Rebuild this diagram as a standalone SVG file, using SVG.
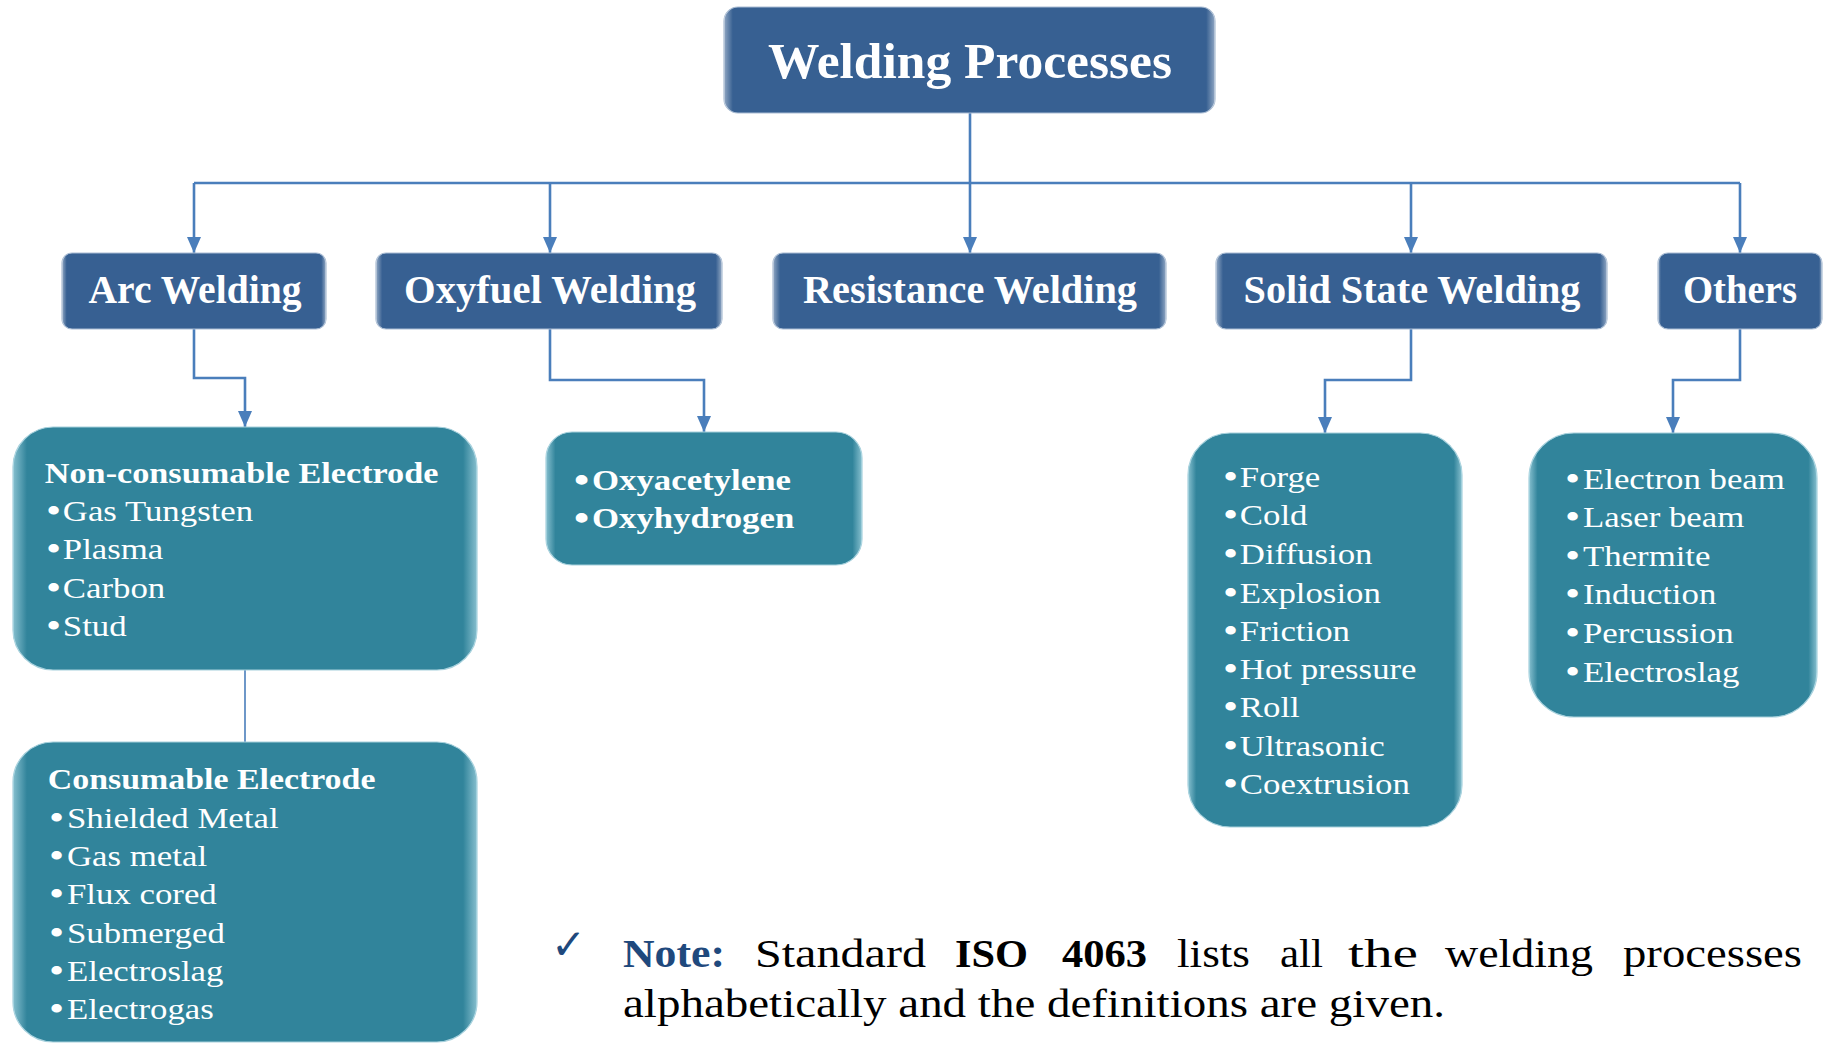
<svg xmlns="http://www.w3.org/2000/svg" width="1826" height="1044" viewBox="0 0 1826 1044">
  <style>
    .head { fill: #376092; stroke: #a9bcd3; stroke-width: 1.2; }
    .sub { fill: #31849b; stroke: #a6d0dc; stroke-width: 1.2; }
    .gloss { pointer-events: none; }
    .lbl { font-family: "Liberation Serif", "Times New Roman", serif; font-weight: bold; fill: #ffffff; text-anchor: middle; }
    .item { font-family: "Liberation Serif", "Times New Roman", serif; font-size: 29px; fill: #ffffff; }
    .bold { font-weight: bold; }
    .dot { font-size: 36px; }
    .wire { fill: none; stroke: #4a7ebb; stroke-width: 2.6; }
    .note { font-family: "Liberation Serif", "Times New Roman", serif; font-size: 39px; fill: #000000; }
  </style>
  <defs>
    <!-- soft bevel highlight along the left and right edges -->
    <linearGradient id="edge" x1="0" y1="0" x2="1" y2="0">
      <stop offset="0" stop-color="#ffffff" stop-opacity="0.45"/>
      <stop offset="0.018" stop-color="#ffffff" stop-opacity="0"/>
      <stop offset="0.982" stop-color="#ffffff" stop-opacity="0"/>
      <stop offset="1" stop-color="#ffffff" stop-opacity="0.45"/>
    </linearGradient>
    <linearGradient id="edgeSub" x1="0" y1="0" x2="1" y2="0">
      <stop offset="0" stop-color="#bfe6f0" stop-opacity="0.6"/>
      <stop offset="0.03" stop-color="#bfe6f0" stop-opacity="0"/>
      <stop offset="0.97" stop-color="#bfe6f0" stop-opacity="0"/>
      <stop offset="1" stop-color="#bfe6f0" stop-opacity="0.6"/>
    </linearGradient>
    <marker id="arrow" viewBox="0 0 16 14" refX="16" refY="7" markerWidth="16" markerHeight="14" markerUnits="userSpaceOnUse" orient="auto">
      <path d="M0,0 L16,7 L0,14 Z" fill="#4a7ebb"/>
    </marker>
  </defs>

  <!-- connectors -->
  <g id="connectors">
    <path class="wire" d="M970,113 L970,253" marker-end="url(#arrow)"/>
    <path class="wire" d="M194,183 L1740,183"/>
    <path class="wire" d="M194,183 L194,253" marker-end="url(#arrow)"/>
    <path class="wire" d="M550,183 L550,253" marker-end="url(#arrow)"/>
    <path class="wire" d="M1411,183 L1411,253" marker-end="url(#arrow)"/>
    <path class="wire" d="M1740,183 L1740,253" marker-end="url(#arrow)"/>
    <path class="wire" d="M194,329 L194,378 L245,378 L245,427" marker-end="url(#arrow)"/>
    <path class="wire" d="M550,329 L550,380 L704,380 L704,432" marker-end="url(#arrow)"/>
    <path class="wire" d="M1411,329 L1411,380 L1325,380 L1325,433" marker-end="url(#arrow)"/>
    <path class="wire" d="M1740,329 L1740,380 L1673,380 L1673,433" marker-end="url(#arrow)"/>
    <path class="wire" style="stroke-width:1.6" d="M245,670 L245,742"/>
  </g>

  <!-- root -->
  <g id="welding-processes">
    <rect class="head" x="724" y="7" width="491" height="106" rx="14"/>
    <rect class="gloss" x="724" y="7" width="491" height="106" rx="14" fill="url(#edge)"/>
    <text class="lbl" x="970" y="78" font-size="51" textLength="404" lengthAdjust="spacingAndGlyphs">Welding Processes</text>
  </g>

  <!-- categories -->
  <g id="arc-welding">
    <rect class="head" x="62" y="253" width="264" height="76" rx="10"/>
    <rect class="gloss" x="62" y="253" width="264" height="76" rx="10" fill="url(#edge)"/>
    <text class="lbl" x="195" y="303" font-size="39" textLength="213" lengthAdjust="spacingAndGlyphs">Arc Welding</text>
  </g>
  <g id="oxyfuel-welding">
    <rect class="head" x="376" y="253" width="346" height="76" rx="10"/>
    <rect class="gloss" x="376" y="253" width="346" height="76" rx="10" fill="url(#edge)"/>
    <text class="lbl" x="550" y="303" font-size="39" textLength="292" lengthAdjust="spacingAndGlyphs">Oxyfuel Welding</text>
  </g>
  <g id="resistance-welding">
    <rect class="head" x="773" y="253" width="393" height="76" rx="10"/>
    <rect class="gloss" x="773" y="253" width="393" height="76" rx="10" fill="url(#edge)"/>
    <text class="lbl" x="970" y="303" font-size="39" textLength="334" lengthAdjust="spacingAndGlyphs">Resistance Welding</text>
  </g>
  <g id="solid-state-welding">
    <rect class="head" x="1216" y="253" width="391" height="76" rx="10"/>
    <rect class="gloss" x="1216" y="253" width="391" height="76" rx="10" fill="url(#edge)"/>
    <text class="lbl" x="1412" y="303" font-size="39" textLength="337" lengthAdjust="spacingAndGlyphs">Solid State Welding</text>
  </g>
  <g id="others">
    <rect class="head" x="1658" y="253" width="164" height="76" rx="10"/>
    <rect class="gloss" x="1658" y="253" width="164" height="76" rx="10" fill="url(#edge)"/>
    <text class="lbl" x="1740" y="303" font-size="39" textLength="114" lengthAdjust="spacingAndGlyphs">Others</text>
  </g>

  <!-- process lists -->
  <g id="non-consumable-electrode">
    <rect class="sub" x="13" y="427" width="464" height="243" rx="40"/>
    <rect class="gloss" x="13" y="427" width="464" height="243" rx="40" fill="url(#edgeSub)"/>
    <g transform="translate(46,0) scale(1.2,1)">
      <text class="item bold" x="-1" y="483" textLength="328" lengthAdjust="spacingAndGlyphs">Non-consumable Electrode</text>
      <text class="item" y="521"><tspan class="dot" x="0" dy="2">•</tspan><tspan x="14" dy="-2">Gas Tungsten</tspan></text>
      <text class="item" y="559"><tspan class="dot" x="0" dy="2">•</tspan><tspan x="14" dy="-2">Plasma</tspan></text>
      <text class="item" y="598"><tspan class="dot" x="0" dy="2">•</tspan><tspan x="14" dy="-2">Carbon</tspan></text>
      <text class="item" y="636"><tspan class="dot" x="0" dy="2">•</tspan><tspan x="14" dy="-2">Stud</tspan></text>
    </g>
  </g>

  <g id="consumable-electrode">
    <rect class="sub" x="13" y="742" width="464" height="300" rx="40"/>
    <rect class="gloss" x="13" y="742" width="464" height="300" rx="40" fill="url(#edgeSub)"/>
    <g transform="translate(49,0) scale(1.2,1)">
      <text class="item bold" x="-1" y="789" textLength="273" lengthAdjust="spacingAndGlyphs">Consumable Electrode</text>
      <text class="item" y="828"><tspan class="dot" x="0" dy="2">•</tspan><tspan x="15" dy="-2">Shielded Metal</tspan></text>
      <text class="item" y="866"><tspan class="dot" x="0" dy="2">•</tspan><tspan x="15" dy="-2">Gas metal</tspan></text>
      <text class="item" y="904"><tspan class="dot" x="0" dy="2">•</tspan><tspan x="15" dy="-2">Flux cored</tspan></text>
      <text class="item" y="943"><tspan class="dot" x="0" dy="2">•</tspan><tspan x="15" dy="-2">Submerged</tspan></text>
      <text class="item" y="981"><tspan class="dot" x="0" dy="2">•</tspan><tspan x="15" dy="-2">Electroslag</tspan></text>
      <text class="item" y="1019"><tspan class="dot" x="0" dy="2">•</tspan><tspan x="15" dy="-2">Electrogas</tspan></text>
    </g>
  </g>

  <g id="oxyfuel-types">
    <rect class="sub" x="546" y="432" width="316" height="133" rx="26"/>
    <rect class="gloss" x="546" y="432" width="316" height="133" rx="26" fill="url(#edgeSub)"/>
    <g transform="translate(574,0) scale(1.2,1)">
      <text class="item bold" y="490"><tspan class="dot" x="0" dy="2">•</tspan><tspan x="15" dy="-2">Oxyacetylene</tspan></text>
      <text class="item bold" y="528"><tspan class="dot" x="0" dy="2">•</tspan><tspan x="15" dy="-2">Oxyhydrogen</tspan></text>
    </g>
  </g>

  <g id="solid-state-types">
    <rect class="sub" x="1188" y="433" width="274" height="394" rx="42"/>
    <rect class="gloss" x="1188" y="433" width="274" height="394" rx="42" fill="url(#edgeSub)"/>
    <g transform="translate(1223,0) scale(1.2,1)">
      <text class="item" y="487"><tspan class="dot" x="0" dy="2">•</tspan><tspan x="14" dy="-2">Forge</tspan></text>
      <text class="item" y="525"><tspan class="dot" x="0" dy="2">•</tspan><tspan x="14" dy="-2">Cold</tspan></text>
      <text class="item" y="564"><tspan class="dot" x="0" dy="2">•</tspan><tspan x="14" dy="-2">Diffusion</tspan></text>
      <text class="item" y="603"><tspan class="dot" x="0" dy="2">•</tspan><tspan x="14" dy="-2">Explosion</tspan></text>
      <text class="item" y="641"><tspan class="dot" x="0" dy="2">•</tspan><tspan x="14" dy="-2">Friction</tspan></text>
      <text class="item" y="679"><tspan class="dot" x="0" dy="2">•</tspan><tspan x="14" dy="-2">Hot pressure</tspan></text>
      <text class="item" y="717"><tspan class="dot" x="0" dy="2">•</tspan><tspan x="14" dy="-2">Roll</tspan></text>
      <text class="item" y="756"><tspan class="dot" x="0" dy="2">•</tspan><tspan x="14" dy="-2">Ultrasonic</tspan></text>
      <text class="item" y="794"><tspan class="dot" x="0" dy="2">•</tspan><tspan x="14" dy="-2">Coextrusion</tspan></text>
    </g>
  </g>

  <g id="other-types">
    <rect class="sub" x="1529" y="433" width="288" height="284" rx="45"/>
    <rect class="gloss" x="1529" y="433" width="288" height="284" rx="45" fill="url(#edgeSub)"/>
    <g transform="translate(1565,0) scale(1.2,1)">
      <text class="item" y="489"><tspan class="dot" x="0" dy="2">•</tspan><tspan x="15" dy="-2">Electron beam</tspan></text>
      <text class="item" y="527"><tspan class="dot" x="0" dy="2">•</tspan><tspan x="15" dy="-2">Laser beam</tspan></text>
      <text class="item" y="566"><tspan class="dot" x="0" dy="2">•</tspan><tspan x="15" dy="-2">Thermite</tspan></text>
      <text class="item" y="604"><tspan class="dot" x="0" dy="2">•</tspan><tspan x="15" dy="-2">Induction</tspan></text>
      <text class="item" y="643"><tspan class="dot" x="0" dy="2">•</tspan><tspan x="15" dy="-2">Percussion</tspan></text>
      <text class="item" y="682"><tspan class="dot" x="0" dy="2">•</tspan><tspan x="15" dy="-2">Electroslag</tspan></text>
    </g>
  </g>

  <!-- footnote -->
  <g id="note">
    <text x="551" y="959" font-family="'DejaVu Sans', sans-serif" font-size="42" font-weight="bold" fill="#1f497d">✓</text>
    <text class="note" y="967">
      <tspan x="623" font-weight="bold" fill="#1f497d" textLength="102" lengthAdjust="spacingAndGlyphs">Note:</tspan>
      <tspan x="755" textLength="171" lengthAdjust="spacingAndGlyphs">Standard</tspan>
      <tspan x="955" font-weight="bold" textLength="73" lengthAdjust="spacingAndGlyphs">ISO</tspan>
      <tspan x="1062" font-weight="bold" textLength="85" lengthAdjust="spacingAndGlyphs">4063</tspan>
      <tspan x="1177" textLength="73" lengthAdjust="spacingAndGlyphs">lists</tspan>
      <tspan x="1280" textLength="43" lengthAdjust="spacingAndGlyphs">all</tspan>
      <tspan x="1348" textLength="70" lengthAdjust="spacingAndGlyphs">the</tspan>
      <tspan x="1445" textLength="148" lengthAdjust="spacingAndGlyphs">welding</tspan>
      <tspan x="1623" textLength="179" lengthAdjust="spacingAndGlyphs">processes</tspan>
    </text>
    <text class="note" x="623" y="1017" textLength="822" lengthAdjust="spacingAndGlyphs">alphabetically and the definitions are given.</text>
  </g>
</svg>
